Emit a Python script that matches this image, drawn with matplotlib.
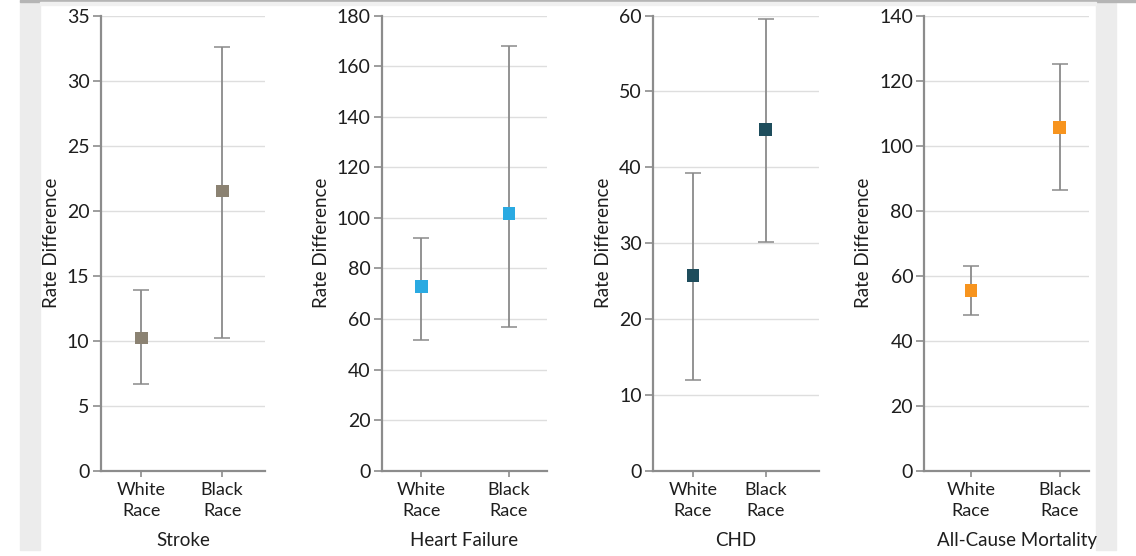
import matplotlib
matplotlib.use('Agg')
import matplotlib.pyplot as plt
from matplotlib.patches import Rectangle

plt.rcParams['font.family'] = ['Lato', 'DejaVu Sans']

# %% data
outcomes = ['Stroke', 'Heart Failure', 'CHD', 'All-Cause Mortality']
groups = ['White\nRace', 'Black\nRace']
estimates = [[10.2, 21.5], [72.8, 101.7], [25.7, 45.0], [55.5, 105.5]]
lower = [[6.7, 10.2], [51.8, 57.0], [12.0, 30.1], [47.8, 86.3]]
upper = [[13.9, 32.6], [92.2, 168.1], [39.2, 59.5], [63.0, 125.2]]
ymax = [35, 180, 60, 140]
ystep = [5, 20, 10, 20]
colors = ['#8b8272', '#2aaae2', '#1e4d5c', '#f7941e']

# %% layout (figure fractions)
lefts = [0.0886, 0.336, 0.5748, 0.8136]
widths = [0.1446, 0.1452, 0.1461, 0.1452]
xlims = [(-0.506, 1.53), (-0.45, 1.43), (-0.55, 1.73), (-0.525, 1.33)]
label_x = [0.5, 0.5, 0.5, 0.56]  # last title sits a bit right of centre
bottom, height = 0.1534, 0.8187

fig = plt.figure(figsize=(11.36, 5.56), dpi=100)

# page decoration: grey side bands and top rule
W, H = 1136, 556
for x0 in (20, 1096):
    fig.patches.append(Rectangle((x0 / W, 1 - 550 / H), 20 / W, 550 / H,
                                 transform=fig.transFigure, color='#ececec', zorder=-5))
fig.patches.append(Rectangle((20 / W, 1 - 2 / H), 1 - 20 / W, 2 / H,
                             transform=fig.transFigure, color='#b5b5b5', zorder=-4))
fig.patches.append(Rectangle((40 / W, 1 - 5 / H), 1056 / W, 3 / H,
                             transform=fig.transFigure, color='#f0f0f0', zorder=-4))

axis_col = '#8c8c8c'
text_col = '#1e1e1e'
for i, name in enumerate(outcomes):
    ax = fig.add_axes([lefts[i], bottom, widths[i], height])
    ax.patch.set_alpha(0)
    x = [0, 1]
    yerr = [[e - l for e, l in zip(estimates[i], lower[i])],
            [u - e for e, u in zip(estimates[i], upper[i])]]
    ax.errorbar(x, estimates[i], yerr=yerr, fmt='none', ecolor='#8a8a8a',
                elinewidth=1.3, capsize=6, capthick=1.1, zorder=2)
    ax.scatter(x, estimates[i], marker='s', s=85, color=colors[i],
               edgecolors='none', zorder=3)
    ax.set_ylim(0, ymax[i])
    ax.set_yticks(range(0, ymax[i] + 1, ystep[i]))
    ax.set_xlim(*xlims[i])
    ax.set_xticks(x)
    ax.set_xticklabels(groups, fontsize=13, linespacing=1.4)
    ax.yaxis.grid(True, color='#dedede', lw=1)
    ax.set_axisbelow(True)
    for s in ('top', 'right'):
        ax.spines[s].set_visible(False)
    for s in ('left', 'bottom'):
        ax.spines[s].set_color(axis_col)
        ax.spines[s].set_linewidth(1.6)
    ax.tick_params(axis='y', colors=axis_col, labelcolor=text_col,
                   labelsize=14, length=6, width=1.2, pad=2)
    ax.tick_params(axis='x', colors=axis_col, labelcolor=text_col,
                   length=4, width=1.2, pad=4)
    ax.set_ylabel('Rate Difference', fontsize=13.5, color=text_col, labelpad=5)
    ax.set_xlabel(name, fontsize=13.5, color=text_col)
    ax.xaxis.set_label_coords(label_x[i], -0.134)

plt.savefig('out.png', dpi=100)
